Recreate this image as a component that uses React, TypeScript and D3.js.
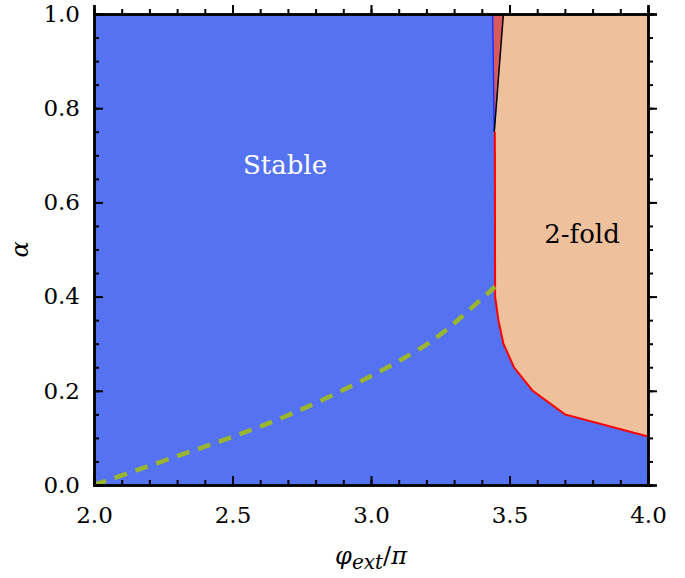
import React from "react";
import * as d3 from "d3";

// boundary of the 2-fold region (red line)
const boundaryPhi = [3.447, 3.448, 3.46, 3.478, 3.516, 3.584, 3.70, 4.0];
const boundaryAlpha = [0.75, 0.40, 0.35, 0.30, 0.25, 0.20, 0.15, 0.103];

// thin sliver near the top (red fill)
const sliverPhi = [3.439, 3.478, 3.445];
const sliverAlpha = [1.0, 1.0, 0.75];

// dashed green curve
const dashPhi = [2.0, 2.226, 2.503, 2.732, 2.972, 3.189, 3.321, 3.448];
const dashAlpha = [0.0, 0.046, 0.103, 0.156, 0.223, 0.294, 0.354, 0.421];

const xTicks = [2.0, 2.5, 3.0, 3.5, 4.0];
const yTicks = [0.0, 0.2, 0.4, 0.6, 0.8, 1.0];

const W = 685, H = 578;
const margin = { top: 14, right: 37, bottom: 93, left: 94 };
const FONT = "'DejaVu Serif', serif";

const App = () => {
  const ref = React.useRef<SVGSVGElement>(null);

  React.useEffect(() => {
    const svg = d3.select(ref.current);
    svg.selectAll("*").remove();

    const x = d3.scaleLinear().domain([2, 4]).range([margin.left, W - margin.right]);
    const y = d3.scaleLinear().domain([0, 1]).range([H - margin.bottom, margin.top]);

    const line = d3.line<[number, number]>().x((d) => x(d[0])).y((d) => y(d[1]));

    // background: stable region
    svg.append("rect")
      .attr("x", x(2)).attr("y", y(1))
      .attr("width", x(4) - x(2)).attr("height", y(0) - y(1))
      .attr("fill", "#5572f0");

    // 2-fold region
    const bPts: [number, number][] = boundaryPhi.map((p, i) => [p, boundaryAlpha[i]]);
    const foldPoly: [number, number][] = [
      [sliverPhi[1], sliverAlpha[1]],
      ...bPts,
      [4.0, 1.0],
    ];
    svg.append("path").attr("d", line(foldPoly) + "Z").attr("fill", "#efc09c");

    // red sliver
    const sPts: [number, number][] = sliverPhi.map((p, i) => [p, sliverAlpha[i]]);
    svg.append("path").attr("d", line(sPts) + "Z").attr("fill", "#d95a5c");
    svg.append("path").attr("d", line([sPts[0], sPts[2]]))
      .attr("fill", "none").attr("stroke", "#2030ff").attr("stroke-width", 1.5);
    svg.append("path").attr("d", line([sPts[1], sPts[2]]))
      .attr("fill", "none").attr("stroke", "#000").attr("stroke-width", 1.5);

    // red boundary
    svg.append("path").attr("d", line(bPts))
      .attr("fill", "none").attr("stroke", "#ff0000").attr("stroke-width", 2);

    // dashed curve
    const dPts: [number, number][] = dashPhi.map((p, i) => [p, dashAlpha[i]]);
    svg.append("path")
      .attr("d", d3.line<[number, number]>().x((d) => x(d[0])).y((d) => y(d[1])).curve(d3.curveNatural)(dPts))
      .attr("fill", "none").attr("stroke", "#9ab52f").attr("stroke-width", 4.5)
      .attr("stroke-dasharray", "13,9");

    // axes (ticks inward on all four sides)
    const xMinor = d3.range(2, 4.0001, 0.1);
    const yMinor = d3.range(0, 1.0001, 0.05);
    const styleAxis = (g: any) => {
      g.select(".domain").attr("stroke", "#000").attr("stroke-width", 2.5);
      g.selectAll(".tick line").attr("stroke", "#000").attr("stroke-width", 2);
    };
    const bottom = H - margin.bottom, top = margin.top;
    const left = margin.left, right = W - margin.right;

    [[bottom, d3.axisBottom, 1], [top, d3.axisTop, -1]].forEach(([pos, ax, s]: any) => {
      svg.append("g").attr("transform", `translate(0,${pos})`)
        .call(ax(x).tickValues(xMinor).tickSize(-5 * s).tickFormat(() => ""))
        .call(styleAxis);
      const g = svg.append("g").attr("transform", `translate(0,${pos})`)
        .call(ax(x).tickValues(xTicks).tickSize(-9 * s).tickPadding(22).tickFormat(d3.format(".1f")))
        .call(styleAxis);
      if (s < 0) g.selectAll("text").remove();
    });
    [[left, d3.axisLeft, 1], [right, d3.axisRight, -1]].forEach(([pos, ax, s]: any) => {
      svg.append("g").attr("transform", `translate(${pos},0)`)
        .call(ax(y).tickValues(yMinor).tickSize(-5 * s).tickFormat(() => ""))
        .call(styleAxis);
      const g = svg.append("g").attr("transform", `translate(${pos},0)`)
        .call(ax(y).tickValues(yTicks).tickSize(-9 * s).tickPadding(14).tickFormat(d3.format(".1f")))
        .call(styleAxis);
      if (s < 0) g.selectAll("text").remove();
    });
    svg.selectAll(".tick text")
      .attr("font-family", FONT)
      .attr("font-size", 23)
      .attr("fill", "#000");

    // labels
    svg.append("text").attr("x", 285).attr("y", 174).attr("text-anchor", "middle")
      .attr("font-family", FONT).attr("font-size", 26)
      .attr("fill", "#fff").text("Stable");
    svg.append("text").attr("x", 582).attr("y", 243).attr("text-anchor", "middle")
      .attr("font-family", FONT).attr("font-size", 26)
      .attr("fill", "#000").text("2-fold");

    svg.append("text")
      .attr("transform", `translate(28,${(top + bottom) / 2}) rotate(-90)`)
      .attr("text-anchor", "middle")
      .attr("font-family", FONT).attr("font-style", "italic")
      .attr("font-size", 24).text("α");

    const xl = svg.append("text").attr("x", (left + right) / 2).attr("y", 564)
      .attr("text-anchor", "middle")
      .attr("font-family", FONT).attr("font-style", "italic")
      .attr("font-size", 24);
    xl.append("tspan").text("φ");
    xl.append("tspan").attr("dy", 5).attr("font-size", 20).text("ext");
    xl.append("tspan").attr("dy", -5).attr("font-style", "normal").text("/");
    xl.append("tspan").text("π");
  }, []);

  return (
    <svg ref={ref} width={W} height={H} style={{ position: "absolute", left: 0, top: 0, background: "#fff" }} />
  );
};

export default App;
